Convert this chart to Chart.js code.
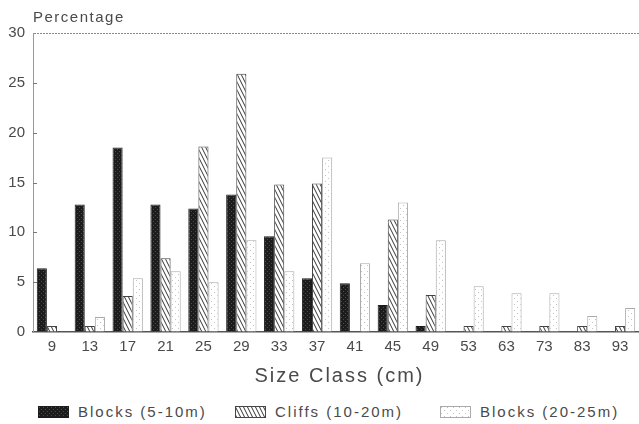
<!DOCTYPE html>
<html>
<head>
<meta charset="utf-8">
<script src="https://cdn.jsdelivr.net/npm/chart.js@4.4.1/dist/chart.umd.min.js"></script>
<style>
  body { margin: 0; background: #fff; }
  #page { position: relative; width: 639px; height: 424px; font-family: "Liberation Sans", Arial, sans-serif; color: #4a4a4a; }
  #chartBox { position: absolute; left: 0; top: 0; width: 639px; height: 366px; }
  #xTitle { position: absolute; left: 20px; top: 364px; width: 639px; text-align: center; font-size: 20px; letter-spacing: 2px; }
  .leg { position: absolute; top: 403px; font-size: 15px; letter-spacing: 2px; white-space: nowrap; display: flex; align-items: center; }
  .leg canvas { margin-right: 9px; }
</style>
</head>
<body>
<div id="page">
  <div id="chartBox"><canvas id="chart"></canvas></div>
  <div id="xTitle">Size Class (cm)</div>
  <div class="leg" style="left:38px"><canvas id="sw0" width="31" height="12"></canvas>Blocks (5-10m)</div>
  <div class="leg" style="left:235px"><canvas id="sw1" width="31" height="12"></canvas>Cliffs (10-20m)</div>
  <div class="leg" style="left:440px"><canvas id="sw2" width="31" height="12"></canvas>Blocks (20-25m)</div>
</div>
<script>
const sizeClasses = ['9', '13', '17', '21', '25', '29', '33', '37', '41', '45', '49', '53', '63', '73', '83', '93'];
const blocksSmall = [6.4, 12.8, 18.5, 12.8, 12.4, 13.8, 9.6, 5.4, 4.9, 2.7, 0.6, 0, 0, 0, 0, 0];
const cliffs = [0.6, 0.6, 3.6, 7.4, 18.6, 25.9, 14.8, 14.9, 0, 11.3, 3.7, 0.6, 0.6, 0.6, 0.6, 0.6];
const blocksLarge = [0, 1.5, 5.4, 6.1, 5.0, 9.2, 6.1, 17.5, 6.9, 13.0, 9.2, 4.6, 3.9, 3.9, 1.6, 2.4];
const seriesNames = ['Blocks (5-10m)', 'Cliffs (10-20m)', 'Blocks (20-25m)'];
const yTicks = [0, 5, 10, 15, 20, 25, 30];

function makePattern(kind) {
  const c = document.createElement('canvas');
  const g = c.getContext('2d');
  if (kind === 'solid') {
    c.width = 4; c.height = 4;
    g.fillStyle = '#1c1c1c';
    g.fillRect(0, 0, 4, 4);
    g.fillStyle = '#4c4c4c';
    g.fillRect(1, 1, 1, 1);
    g.fillRect(3, 3, 1, 1);
  } else if (kind === 'hatch') {
    c.width = 4; c.height = 8;
    g.fillStyle = '#fff';
    g.fillRect(0, 0, 4, 8);
    g.strokeStyle = '#333';
    g.lineWidth = 1;
    g.beginPath();
    [-4, 0, 4].forEach(dx => {
      g.moveTo(dx - 1, -2);
      g.lineTo(dx + 5, 10);
    });
    g.stroke();
  } else {
    c.width = 6; c.height = 6;
    g.fillStyle = '#fff';
    g.fillRect(0, 0, 6, 6);
    g.fillStyle = '#c4c4c4';
    g.fillRect(1, 1, 1, 1);
    g.fillRect(4, 4, 1, 1);
  }
  return g.createPattern(c, 'repeat');
}

const fills = [makePattern('solid'), makePattern('hatch'), makePattern('dots')];
const borders = ['#1c1c1c', '#444', '#aaa'];

// legend swatches
fills.forEach((f, i) => {
  const sw = document.getElementById('sw' + i);
  const g = sw.getContext('2d');
  g.fillStyle = f;
  g.fillRect(0, 0, sw.width, sw.height);
  g.strokeStyle = borders[i];
  g.strokeRect(0.5, 0.5, sw.width - 1, sw.height - 1);
});

const axisExtras = {
  id: 'axisExtras',
  afterDraw(chart) {
    const { ctx, chartArea, scales } = chart;
    ctx.save();
    ctx.strokeStyle = '#777';
    ctx.lineWidth = 1;
    yTicks.forEach(v => {
      if (v === 0 || v === 30) return;
      const py = Math.round(scales.y.getPixelForValue(v)) + 0.5;
      ctx.beginPath();
      ctx.moveTo(chartArea.left, py);
      ctx.lineTo(chartArea.left + 4, py);
      ctx.stroke();
    });
    ctx.fillStyle = '#4a4a4a';
    ctx.font = '15px "Liberation Sans"';
    ctx.letterSpacing = '1.5px';
    ctx.textBaseline = 'alphabetic';
    ctx.fillText('Percentage', chartArea.left, chartArea.top - 11);
    ctx.restore();
  }
};

const datasets = [blocksSmall, cliffs, blocksLarge].map((data, i) => ({
  label: seriesNames[i],
  data: data,
  backgroundColor: fills[i],
  borderColor: borders[i],
  borderWidth: 1,
  categoryPercentage: 0.8,
  barPercentage: 1.0
}));

new Chart(document.getElementById('chart'), {
  type: 'bar',
  data: { labels: sizeClasses, datasets: datasets },
  plugins: [axisExtras],
  options: {
    responsive: true,
    maintainAspectRatio: false,
    animation: false,
    layout: { padding: { top: 33, bottom: 4, right: 0, left: 0 } },
    plugins: { legend: { display: false }, tooltip: { enabled: false } },
    scales: {
      x: {
        grid: { display: false, drawTicks: false },
        border: { display: true, color: '#555', width: 1.5 },
        ticks: {
          color: '#4a4a4a',
          font: { family: 'Liberation Sans', size: 15 },
          padding: 6,
          maxRotation: 0,
          autoSkip: false
        }
      },
      y: {
        min: 0,
        max: 30,
        afterFit(scale) { scale.width = 33; },
        grid: {
          drawTicks: false,
          color: c => c.tick && c.tick.value === 30 ? '#888' : 'rgba(0,0,0,0)'
        },
        border: { display: true, color: '#999', width: 1, dash: [2, 1] },
        ticks: {
          stepSize: 5,
          color: '#4a4a4a',
          font: { family: 'Liberation Sans', size: 15 },
          padding: 8
        }
      }
    }
  }
});
</script>
</body>
</html>
